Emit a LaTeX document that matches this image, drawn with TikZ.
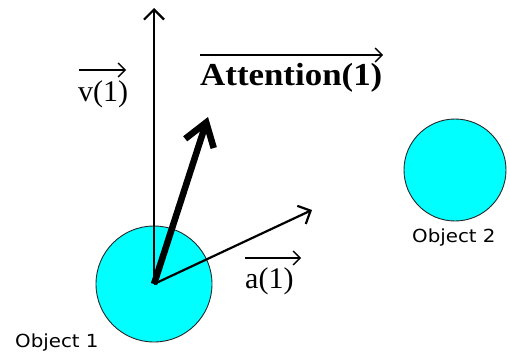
\documentclass[tikz,border=0pt]{standalone}
\usepackage{fontspec}
\setmainfont{Liberation Serif}
\newfontfamily\objfont{DejaVu Sans}
\usetikzlibrary{arrows.meta}
\tikzset{
  obj/.style={circle, draw=black!85, line width=0.9pt, fill={rgb,255:red,0;green,255;blue,255}, inner sep=0pt},
  thinvec/.style={line width=2.2pt, -{Straight Barb[length=10pt,width=20pt]}},
  thickvec/.style={line width=6.5pt, -{Straight Barb[length=22pt,width=30pt]}},
  ovarrow/.style={line width=1.3pt, -{Straight Barb[length=7pt,width=14pt]}},
  veclabel/.style={anchor=base west, inner sep=0pt, font=\fontsize{30}{32}\selectfont},
  attlabel/.style={anchor=base west, inner sep=0pt, font=\fontsize{32}{34}\selectfont\bfseries},
  objlabel/.style={anchor=base west, inner sep=0pt, font=\objfont\fontsize{18}{20}\selectfont}
}
\begin{document}
\begin{tikzpicture}[x=1pt,y=-1pt]
\useasboundingbox (0,0) rectangle (510,358);
\node[obj, minimum size=116pt] (o1) at (154,284) {};
\node[obj, minimum size=102pt] (o2) at (455,170) {};
\coordinate (vt) at (154,8);
\coordinate (at) at (312,210);
\coordinate (tt) at (208,117);
\draw[thinvec] (o1.center) -- (vt);
\draw[thinvec] (o1.center) -- (at);
\draw[thickvec] (o1.center) -- (tt);
\node[veclabel] (lv) at (78,102) {v(1)};
\node[veclabel] (la) at (245,288) {a(1)};
\node[attlabel] (lt) at (200,86) {\scalebox{1.09}[1]{Attention(1)}};
\node[objlabel] (l1) at (15,347) {\scalebox{1.1}[1]{Object 1}};
\node[objlabel] (l2) at (412,242) {\scalebox{1.1}[1]{Object 2}};
\coordinate (v0) at (79,70); \coordinate (v1) at (126,70);
\coordinate (a0) at (245,258); \coordinate (a1) at (301,258);
\coordinate (t0) at (200,55); \coordinate (t1) at (383,55);
\draw[ovarrow] (v0) -- (v1);
\draw[ovarrow] (a0) -- (a1);
\draw[ovarrow] (t0) -- (t1);
\end{tikzpicture}
\end{document}
